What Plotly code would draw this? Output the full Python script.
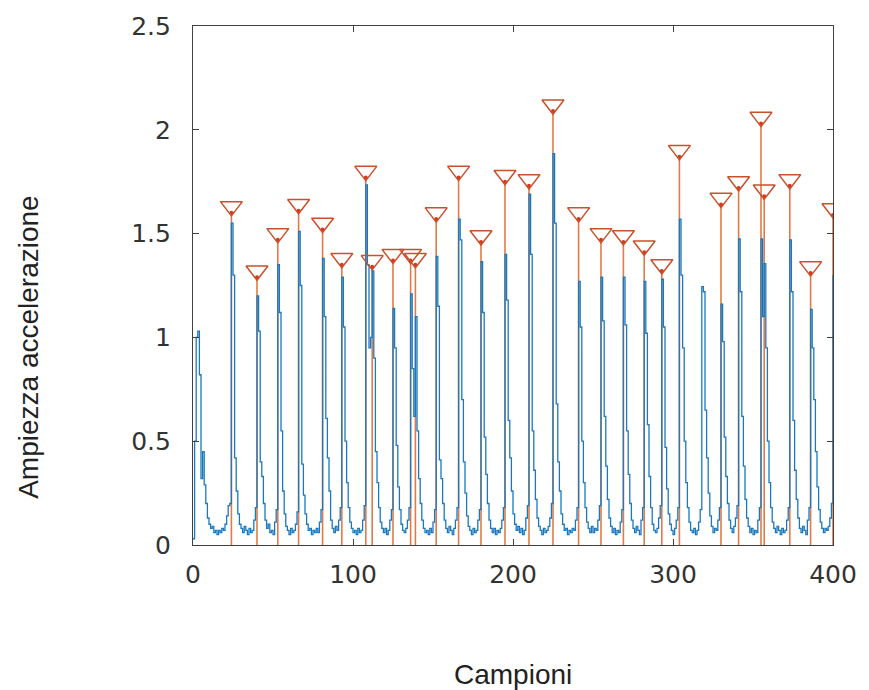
import plotly.graph_objects as go

# Acceleration magnitude, one value per sample (0..400)
amplitude = [
    0.03, 0.50, 1.00, 1.03, 0.82, 0.32, 0.45, 0.29, 0.20, 0.13, 0.10, 0.08, 0.09, 0.06, 0.07, 0.05, 0.07, 0.06, 0.08, 0.07, 0.10, 0.14, 0.19, 0.20,
    1.55, 1.30, 0.42, 0.26, 0.15, 0.10, 0.08, 0.06, 0.09, 0.07, 0.05, 0.08, 0.06, 0.07, 0.12, 0.18,
    1.20, 1.03, 0.40, 0.33, 0.20, 0.12, 0.08, 0.10, 0.06, 0.07, 0.05, 0.11, 0.17,
    1.35, 1.12, 0.55, 0.26, 0.15, 0.09, 0.07, 0.05, 0.08, 0.06, 0.07, 0.10, 0.16,
    1.51, 1.25, 0.39, 0.24, 0.15, 0.10, 0.07, 0.08, 0.05, 0.07, 0.06, 0.08, 0.06, 0.11, 0.17,
    1.38, 1.10, 0.61, 0.42, 0.26, 0.12, 0.08, 0.06, 0.09, 0.07, 0.12, 0.18,
    1.29, 1.05, 0.50, 0.30, 0.18, 0.11, 0.08, 0.06, 0.07, 0.05, 0.08, 0.06, 0.07, 0.12, 0.19,
    1.735, 1.35, 0.95, 1.00, 1.32, 0.90, 0.45, 0.30, 0.18, 0.11, 0.08, 0.06, 0.08, 0.05, 0.07, 0.12, 0.17,
    1.14, 0.95, 0.48, 0.28, 0.17, 0.10, 0.07, 0.06, 0.08, 0.12, 0.18,
    1.21, 0.85, 0.62, 1.10, 0.55, 0.32, 0.20, 0.12, 0.08, 0.06, 0.07, 0.05, 0.08, 0.06, 0.11, 0.17,
    1.39, 1.15, 0.41, 0.32, 0.20, 0.12, 0.08, 0.06, 0.09, 0.07, 0.05, 0.08, 0.12, 0.18,
    1.57, 1.47, 0.70, 0.40, 0.25, 0.14, 0.09, 0.07, 0.05, 0.08, 0.06, 0.07, 0.12, 0.17,
    1.365, 1.12, 0.52, 0.34, 0.20, 0.12, 0.08, 0.06, 0.08, 0.05, 0.07, 0.06, 0.08, 0.12, 0.18,
    1.40, 1.18, 0.60, 0.42, 0.26, 0.15, 0.10, 0.07, 0.09, 0.06, 0.08, 0.05, 0.07, 0.13, 0.19,
    1.69, 1.40, 0.55, 0.36, 0.22, 0.13, 0.09, 0.07, 0.05, 0.08, 0.06, 0.07, 0.09, 0.13, 0.20,
    1.885, 1.55, 0.68, 0.40, 0.26, 0.15, 0.10, 0.07, 0.08, 0.05, 0.07, 0.06, 0.08, 0.07, 0.12, 0.18,
    1.27, 1.05, 0.50, 0.30, 0.18, 0.11, 0.08, 0.06, 0.09, 0.06, 0.08, 0.07, 0.12, 0.19,
    1.29, 1.08, 0.62, 0.38, 0.22, 0.13, 0.09, 0.06, 0.08, 0.05, 0.07, 0.06, 0.11, 0.17,
    1.29, 1.06, 0.55, 0.34, 0.20, 0.12, 0.08, 0.06, 0.09, 0.07, 0.05, 0.12, 0.18,
    1.27, 1.02, 0.58, 0.33, 0.18, 0.10, 0.07, 0.06, 0.08, 0.13, 0.19,
    1.28, 1.05, 0.47, 0.27, 0.15, 0.10, 0.07, 0.05, 0.08, 0.12, 0.18,
    1.57, 1.30, 0.95, 0.50, 0.30, 0.18, 0.11, 0.07, 0.06, 0.08, 0.05, 0.07, 0.11, 0.17,
    1.245, 1.22, 0.65, 0.42, 0.25, 0.14, 0.09, 0.06, 0.08, 0.07, 0.12, 0.18,
    1.16, 0.98, 0.52, 0.33, 0.20, 0.12, 0.08, 0.06, 0.09, 0.13, 0.19,
    1.475, 1.22, 0.62, 0.38, 0.22, 0.13, 0.09, 0.06, 0.08, 0.05, 0.07, 0.06, 0.12, 0.18,
    1.475, 1.10, 1.355, 0.95, 0.50, 0.30, 0.18, 0.11, 0.08, 0.06, 0.09, 0.07, 0.05, 0.08, 0.06, 0.07, 0.12, 0.18,
    1.47, 1.22, 0.60, 0.36, 0.22, 0.13, 0.08, 0.06, 0.09, 0.07, 0.05, 0.12, 0.18,
    1.135, 0.95, 0.70, 0.45, 0.28, 0.17, 0.11, 0.08, 0.06, 0.08, 0.07, 0.09, 0.13, 0.20,
    1.30,
]
samples = list(range(len(amplitude)))

# Detected peaks: sample index and peak height
peak_locs = [24, 40, 53, 66, 81, 93, 108, 112, 125, 136, 139, 152, 166, 180, 195,
             210, 225, 241, 255, 269, 282, 293, 304, 330, 341, 355, 357, 373, 386, 400]
peak_vals = [1.60, 1.29, 1.47, 1.61, 1.52, 1.35, 1.77, 1.34, 1.37, 1.37, 1.35, 1.57, 1.77, 1.46, 1.75,
             1.73, 2.09, 1.57, 1.47, 1.46, 1.41, 1.32, 1.87, 1.64, 1.72, 2.03, 1.68, 1.73, 1.31, 1.59]

x_ticks = [0, 100, 200, 300, 400]
y_ticks = [0, 0.5, 1, 1.5, 2, 2.5]
x_title = "Campioni"
y_title = "Ampiezza accelerazione"

BLUE = "#1A78BE"
ORANGE = "#E07A48"
TRI = "#C9502C"
AXIS = "#404040"

W, H = 869, 690
L, R, T, B = 193, 31, 22, 145
plot_h = H - T - B
plot_w = W - L - R
Y_MAX = 2.5
px_per_unit = plot_h / Y_MAX
tri_lift = 6.5 / px_per_unit  # raise the open triangle so its tip sits on the peak

# vertical stems from the baseline to each peak
stem_x, stem_y = [], []
for k, v in zip(peak_locs, peak_vals):
    stem_x += [k, k, None]
    stem_y += [0, v, None]

fig = go.Figure()
fig.add_trace(go.Scatter(x=stem_x, y=stem_y, mode="lines",
                         line=dict(color=ORANGE, width=1.6),
                         hoverinfo="skip", showlegend=False))
fig.add_trace(go.Scatter(x=samples, y=amplitude, mode="lines",
                         line=dict(color=BLUE, width=1.3, shape="hv"),
                         showlegend=False))
fig.add_trace(go.Scatter(x=peak_locs, y=peak_vals, mode="markers",
                         marker=dict(symbol="circle", size=4, color="#D63A1E"),
                         showlegend=False))
fig.add_trace(go.Scatter(x=peak_locs, y=[v + tri_lift for v in peak_vals], mode="markers",
                         marker=dict(symbol="triangle-down-open", size=19, color=TRI,
                                     line=dict(width=1.5)),
                         showlegend=False))

tick_font = dict(family="DejaVu Sans", size=25, color="#333333")
axis_common = dict(showline=True, linecolor=AXIS, linewidth=1.2, mirror="ticks",
                   ticks="inside", ticklen=6, tickcolor=AXIS, tickwidth=1.2,
                   showgrid=False, zeroline=False, tickfont=tick_font)

fig.update_xaxes(range=[0, 400], tickvals=x_ticks, ticklabelstandoff=7, **axis_common)
fig.update_yaxes(range=[0, Y_MAX], tickvals=y_ticks, ticklabelstandoff=16, **axis_common)

title_font = dict(family="Liberation Sans", size=28, color="#222222")
fig.add_annotation(text=x_title, xref="paper", yref="paper",
                   x=0.5, y=(T + plot_h - 676) / plot_h,
                   xanchor="center", yanchor="middle", showarrow=False, font=title_font)
fig.add_annotation(text=y_title, xref="paper", yref="paper",
                   x=(27 - L) / plot_w, y=(T + plot_h - 345) / plot_h,
                   xanchor="center", yanchor="middle", textangle=-90,
                   showarrow=False, font=title_font)

fig.update_layout(width=W, height=H, autosize=False,
                  margin=dict(l=L, r=R, t=T, b=B),
                  paper_bgcolor="white", plot_bgcolor="white")

fig.write_html("out.html")
